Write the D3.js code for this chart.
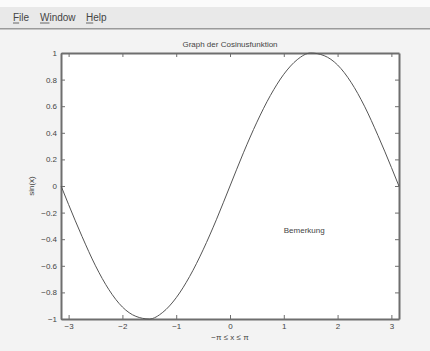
<!DOCTYPE html>
<html>
<head>
<meta charset="utf-8">
<script src="https://cdn.jsdelivr.net/npm/d3@7"></script>
<style>
html,body{margin:0;padding:0;background:#fff;}
svg{display:block;font-family:"Liberation Sans",Arial,sans-serif;}
</style>
</head>
<body>
<svg id="c" width="430" height="351"></svg>
<script>
const menuItems = ["File", "Window", "Help"];
const xValues = [-3.14,-3.0,-2.75,-2.5,-2.25,-2.0,-1.75,-1.5,-1.25,-1.0,-0.75,-0.5,-0.25,0,0.25,0.5,0.75,1.0,1.25,1.5,1.75,2.0,2.25,2.5,2.75,3.0,3.14];
const yValues = [0.00,-0.14,-0.38,-0.60,-0.78,-0.91,-0.98,-1.00,-0.95,-0.84,-0.68,-0.48,-0.25,0.00,0.25,0.48,0.68,0.84,0.95,1.00,0.98,0.91,0.78,0.60,0.38,0.14,0.00];
const xTicks = [-3,-2,-1,0,1,2,3];
const yTicks = [-1,-0.8,-0.6,-0.4,-0.2,0,0.2,0.4,0.6,0.8,1];
const titleText = "Graph der Cosinusfunktion";
const xLabel = "\u2212\u03c0 \u2264 x \u2264 \u03c0";
const yLabel = "sin(x)";
const note = {x: 1.0, y: -0.33, text: "Bemerkung"};

const svg = d3.select("#c");
// window background
svg.append("rect").attr("x",0).attr("y",0).attr("width",430).attr("height",351).attr("fill","#f3f3f3");
svg.append("rect").attr("x",0).attr("y",0).attr("width",430).attr("height",7).attr("fill","#fbfbfb");
svg.append("rect").attr("x",0).attr("y",7).attr("width",430).attr("height",21).attr("fill","#e9e9e9");
svg.append("rect").attr("x",0).attr("y",28).attr("width",430).attr("height",1.5).attr("fill","#9a9a9a");

// menu
const menuX = [13, 40, 86];
menuItems.forEach((m,i)=>{
  svg.append("text").attr("x",menuX[i]).attr("y",21).attr("font-size",10).attr("fill","#444").text(m);
  const first = svg.append("text").attr("font-size",10).attr("visibility","hidden").text(m[0]);
  const fw = first.node().getComputedTextLength();
  first.remove();
  svg.append("line").attr("x1",menuX[i]).attr("x2",menuX[i]+fw).attr("y1",23).attr("y2",23).attr("stroke","#444").attr("stroke-width",0.8);
});

const L=61, R=399, T=53, B=319;
const x = d3.scaleLinear().domain([-Math.PI, Math.PI]).range([L, R]);
const y = d3.scaleLinear().domain([-1, 1]).range([B, T]);

svg.append("rect").attr("x",L).attr("y",T).attr("width",R-L).attr("height",B-T).attr("fill","#fff");

const axisColor = "#6e6e6e";
const fmt = d => d3.format("")(Math.round(d*10)/10).replace("-", "\u2212");

const gB = svg.append("g").attr("transform",`translate(0,${B})`)
  .call(d3.axisBottom(x).tickValues(xTicks).tickSizeInner(-4).tickSizeOuter(0).tickPadding(4).tickFormat(fmt));
const gT = svg.append("g").attr("transform",`translate(0,${T})`)
  .call(d3.axisTop(x).tickValues(xTicks).tickSizeInner(-4).tickSizeOuter(0).tickFormat(""));
const gL = svg.append("g").attr("transform",`translate(${L},0)`)
  .call(d3.axisLeft(y).tickValues(yTicks).tickSizeInner(-4).tickSizeOuter(0).tickPadding(4).tickFormat(fmt));
const gR = svg.append("g").attr("transform",`translate(${R},0)`)
  .call(d3.axisRight(y).tickValues(yTicks).tickSizeInner(-4).tickSizeOuter(0).tickFormat(""));
[gB,gT,gL,gR].forEach(g=>{
  g.select(".domain").attr("stroke",axisColor).attr("stroke-width",2);
  g.selectAll(".tick line").attr("stroke",axisColor).attr("stroke-width",1);
  g.selectAll(".tick text").attr("fill","#444").attr("font-size",8).attr("font-family","Liberation Sans, Arial, sans-serif");
});

// curve
const pts = xValues.map((v,i)=>[v, yValues[i]]);
svg.append("path").datum(pts)
  .attr("d", d3.line().x(d=>x(d[0])).y(d=>y(d[1])).curve(d3.curveMonotoneX))
  .attr("fill","none").attr("stroke","#555").attr("stroke-width",1);

// texts
svg.append("text").attr("x",(L+R)/2).attr("y",47).attr("text-anchor","middle").attr("font-size",8).attr("fill","#444").text(titleText);
svg.append("text").attr("x",(L+R)/2).attr("y",340).attr("text-anchor","middle").attr("font-size",8).attr("fill","#444").text(xLabel);
svg.append("text").attr("transform",`translate(34,${(T+B)/2}) rotate(-90)`).attr("text-anchor","middle").attr("font-size",8).attr("fill","#444").text(yLabel);
svg.append("text").attr("x",x(note.x)).attr("y",y(note.y)+3).attr("font-size",8).attr("fill","#444").text(note.text);
</script>
</body>
</html>
